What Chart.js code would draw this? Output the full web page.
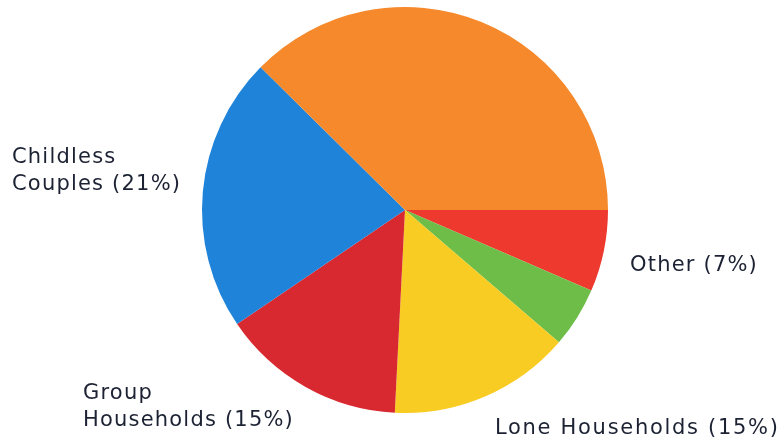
<!DOCTYPE html>
<html>
<head>
<meta charset="utf-8">
<script src="https://cdn.jsdelivr.net/npm/chart.js@4"></script>
<style>
  html, body { margin: 0; padding: 0; background: #fff; }
  #wrap { position: relative; width: 782px; height: 439px; overflow: hidden; }
  .lbl {
    position: absolute;
    font-family: 'DejaVu Sans', sans-serif;
    font-size: 21px;
    line-height: 27px;
    color: #1c2233;
    white-space: nowrap;
    letter-spacing: 1.2px;
  }
</style>
</head>
<body>
<div id="wrap">
  <canvas id="pieChart" width="782" height="439"></canvas>
  <div class="lbl" style="left:12px; top:143px;">Childless<br>Couples (21%)</div>
  <div class="lbl" style="left:83px; top:379px;">Group<br>Households (15%)</div>
  <div class="lbl" style="left:630px; top:251px;">Other (7%)</div>
  <div class="lbl" style="left:495px; top:414px; letter-spacing:1.7px;">Lone Households (15%)</div>
</div>
<script>
// Household types, clockwise from 3 o'clock
let categories = ['Other', 'Single parent', 'Lone Households', 'Group Households', 'Childless Couples', 'Couples with children'];
let shares = [6.5, 4.8, 14.5, 14.7, 21.9, 37.6];
let sliceColors = ['#ee3a2e', '#6dbd48', '#f8cc22', '#d7292f', '#1f84d9', '#f5892c'];

let ctxPie = document.getElementById('pieChart').getContext('2d');
let pieChart = new Chart(ctxPie, {
    type: 'pie',
    data: {
        labels: categories,
        datasets: [{
            data: shares,
            backgroundColor: sliceColors,
            borderWidth: 0
        }]
    },
    options: {
        responsive: false,
        animation: false,
        rotation: 90, // start at 3 o'clock
        layout: {
            padding: { left: 202, right: 174, top: 7, bottom: 26 }
        },
        plugins: {
            legend: { display: false },
            tooltip: { enabled: false }
        }
    }
});
</script>
</body>
</html>
